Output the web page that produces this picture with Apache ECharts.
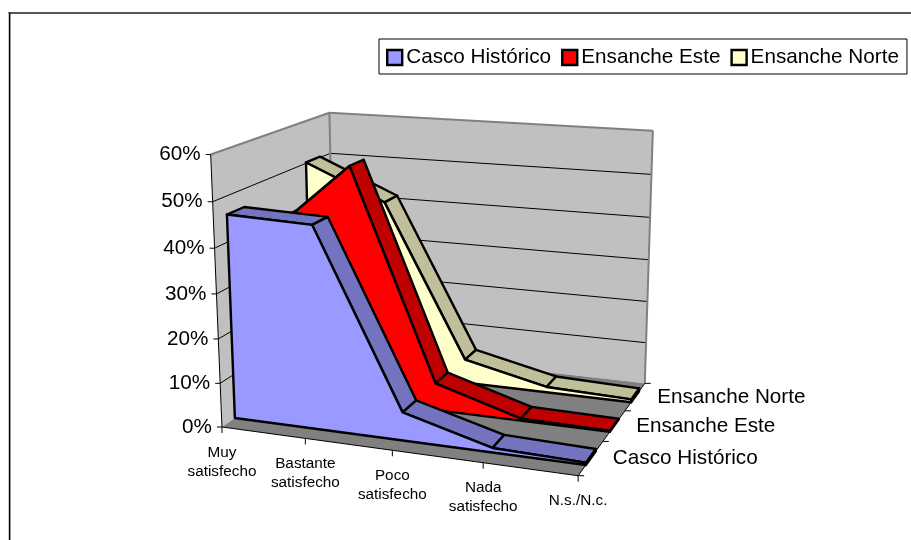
<!DOCTYPE html>
<html><head><meta charset="utf-8">
<style>html,body{margin:0;padding:0;background:#fff}#c{width:911px;height:540px}</style>
<script src="https://cdn.jsdelivr.net/npm/echarts@6/dist/echarts.min.js"></script>
</head><body><div id="c"></div>
<script>
// ---- data ----
const categories = ['Muy\nsatisfecho','Bastante\nsatisfecho','Poco\nsatisfecho','Nada\nsatisfecho','N.s./N.c.'];
const valueTicks = [0,10,20,30,40,50,60];
const seriesNames = ['Casco Histórico','Ensanche Este','Ensanche Norte'];
const cascoHistorico = [46,45.3,6.3,1,0.5];
const ensancheEste = [37.5,54.2,6.3,0.5,0.2];
const ensancheNorte = [50.2,42,5.7,1.3,0.7];

// ---- styling ----
const faceColors = ['#9999FF','#FF0000','#FFFFCC'];
const topColors  = ['#7373BF','#BF0000','#BFBF99'];
const FONT = '"Liberation Sans", Arial, sans-serif';

// ---- projection of the 3-D box (calibrated on the axes box) ----
// [x 0..1, y 0..1, z 0..1, screenX, screenY]
const calib = [
 [0,0,0,222,427],[1,0,0,578,475],[1,0,1,645,383],[0,1,0,211,154],[0,1,1,329,113],[1,1,1,653,131],
 [.25,0,0,305.7,439],[.5,0,0,392,451.7],[.75,0,0,482.7,463],
 [0,.5,0,216.5,294],[1,0,1/3,603,441],[1,0,2/3,625,411],[0,0,.1,235,417]
];
function solveProjection(pts){
  const n=11, A=Array.from({length:n},()=>new Array(n+1).fill(0));
  const add=(r,b)=>{for(let i=0;i<n;i++){for(let j=0;j<n;j++)A[i][j]+=r[i]*r[j];A[i][n]+=r[i]*b;}};
  pts.forEach(([x,y,z,u,v])=>{
    add([x,y,z,1,0,0,0,0,-u*x,-u*y,-u*z],u);
    add([0,0,0,0,x,y,z,1,-v*x,-v*y,-v*z],v);
  });
  for(let i=0;i<n;i++){
    let p=i;for(let k=i+1;k<n;k++)if(Math.abs(A[k][i])>Math.abs(A[p][i]))p=k;
    [A[i],A[p]]=[A[p],A[i]];
    for(let k=0;k<n;k++)if(k!==i){const f=A[k][i]/A[i][i];for(let j=i;j<=n;j++)A[k][j]-=f*A[i][j];}
  }
  return A.map((r,i)=>r[n]/r[i]);
}
const M=solveProjection(calib);
function proj(x,y,z){
  const d=M[8]*x+M[9]*y+M[10]*z+1;
  return [(M[0]*x+M[1]*y+M[2]*z+M[3])/d,(M[4]*x+M[5]*y+M[6]*z+M[7])/d];
}
// library scale -> unit box
function unit(api,cat,val){
  const o=api.coord([0,0]), e=api.coord([categories.length-1,60]), p=api.coord([cat,val]);
  return [(p[0]-o[0])/(e[0]-o[0]),(p[1]-o[1])/(e[1]-o[1])];
}
function P(api,cat,val,z){const u=unit(api,cat,val);return proj(u[0],u[1],z);}

const poly=(points,fill,stroke,w)=>({type:'polygon',shape:{points},style:{fill,stroke:stroke||null,lineWidth:w||0,lineJoin:'round'}});
const line=(a,b,stroke,w)=>({type:'line',shape:{x1:a[0],y1:a[1],x2:b[0],y2:b[1]},style:{stroke,lineWidth:w}});
const label=(x,y,text,size,align)=>({type:'text',style:{x,y,text,fill:'#000',font:size+'px '+FONT,align:align||'center',verticalAlign:'middle',lineHeight:Math.round(size*1.27)}});

function renderBox(params,api){
  if(params.dataIndex!==0) return null;
  const last=categories.length-1, top=valueTicks[valueTicks.length-1], kids=[];
  const c=(cat,val,z)=>P(api,cat,val,z);
  // back wall, side wall, floor
  kids.push(poly([c(0,0,1),c(last,0,1),c(last,top,1),c(0,top,1)],'#C0C0C0'));
  kids.push(poly([c(0,0,0),c(0,0,1),c(0,top,1),c(0,top,0)],'#C0C0C0'));
  kids.push(poly([c(0,0,0),c(last,0,0),c(last,0,1),c(0,0,1)],'#808080'));
  // grid lines
  valueTicks.forEach(v=>{
    if(v===0||v===top) return;
    kids.push(line(c(0,v,0),c(0,v,1),'#000',1));
    kids.push(line(c(0,v,1),c(last,v,1),'#000',1));
  });
  // wall borders
  kids.push(line(c(0,top,0),c(0,top,1),'#808080',2));
  kids.push(line(c(0,top,1),c(last,top,1),'#808080',2));
  kids.push(line(c(last,top,1),c(last,0,1),'#808080',2));
  kids.push(line(c(0,top,1),c(0,0,1),'#808080',2));
  // axis lines and ticks
  kids.push(line(c(0,0,0),c(0,top,0),'#000',1));
  kids.push(line(c(0,0,0),c(last,0,0),'#000',1));
  kids.push(line(c(last,0,0),c(last,0,1),'#000',1));
  valueTicks.forEach(v=>{
    const p=c(0,v,0);
    kids.push(line([p[0]-5,p[1]],p,'#000',1));
    kids.push(label(p[0]-10,p[1],v+'%',20.7,'right'));
  });
  categories.forEach((t,i)=>{
    const p=c(i,0,0);
    kids.push(line(p,[p[0],p[1]+6],'#000',1));
    kids.push(label(p[0],p[1]+(i===last?25:35),t,15.3));
  });
  [0,1,2,3].forEach(k=>{
    const p=c(last,0,k/3);
    kids.push(line(p,[p[0]+6,p[1]],'#000',1));
  });
  seriesNames.forEach((t,k)=>{
    const p=c(last,0,(k+.5)/3);
    kids.push(label(p[0]+22,p[1]+0.5,t,20.7,'left'));
  });
  return {type:'group',children:kids};
}

function ribbon(k){
  return function(params,api){
    if(params.dataIndex!==0) return null;
    const n=categories.length, z0=(k+.3)/3, z1=(k+.7)/3, kids=[];
    const val=i=>api.value(1,i);
    const sw=2.4;
    // end cap
    kids.push(poly([P(api,n-1,0,z0),P(api,n-1,0,z1),P(api,n-1,val(n-1),z1),P(api,n-1,val(n-1),z0)],topColors[k],'#000',sw));
    // top ribbon
    for(let i=0;i<n-1;i++){
      kids.push(poly([P(api,i,val(i),z0),P(api,i+1,val(i+1),z0),P(api,i+1,val(i+1),z1),P(api,i,val(i),z1)],topColors[k],'#000',sw));
    }
    // front face
    const pts=[P(api,0,0,z0)];
    for(let i=0;i<n;i++)pts.push(P(api,i,val(i),z0));
    pts.push(P(api,n-1,0,z0));
    kids.push(poly(pts,faceColors[k],'#000',sw));
    return {type:'group',children:kids};
  };
}

const valuesBySeries=[cascoHistorico,ensancheEste,ensancheNorte];
const chart=echarts.init(document.getElementById('c'),null,{renderer:'canvas'});
chart.setOption({
  animation:false,
  backgroundColor:'#fff',
  textStyle:{fontFamily:FONT},
  graphic:[
    {type:'line',silent:true,shape:{x1:8,y1:13,x2:911,y2:13},style:{stroke:'#555',lineWidth:2}},
    {type:'line',silent:true,shape:{x1:8.5,y1:13,x2:8.5,y2:540},style:{stroke:'#C8C8C8',lineWidth:1}},
    {type:'line',silent:true,shape:{x1:9.7,y1:13,x2:9.7,y2:540},style:{stroke:'#000',lineWidth:1.4}}
  ],
  legend:{
    data:seriesNames, left:379, top:39, width:530, orient:'horizontal',
    padding:[8,8,6,7], itemGap:10, itemWidth:15, itemHeight:15,
    backgroundColor:'#fff', borderColor:'#000', borderWidth:1,
    textStyle:{fontSize:20.7,fontFamily:FONT,color:'#000',padding:[0,0,0,-1]},
    itemStyle:{borderColor:'#000',borderWidth:2.4},
    selectedMode:false, icon:'rect'
  },
  grid:{left:200,top:100,width:400,height:300,show:false},
  xAxis:{type:'category',data:categories,boundaryGap:false,show:false},
  yAxis:{type:'value',min:0,max:60,interval:10,show:false},
  series:[
    {type:'custom',name:'box',coordinateSystem:'cartesian2d',silent:true,z:1,
     data:categories.map((c,i)=>[i,0]),renderItem:renderBox,clip:false},
    ...[2,1,0].map(k=>({
      type:'custom',name:seriesNames[k],coordinateSystem:'cartesian2d',silent:true,z:2+(2-k),
      itemStyle:{color:faceColors[k]},
      data:valuesBySeries[k].map((v,i)=>[i,v]),renderItem:ribbon(k),clip:false,
      encode:{x:0,y:1}
    }))
  ]
});
</script></body></html>
